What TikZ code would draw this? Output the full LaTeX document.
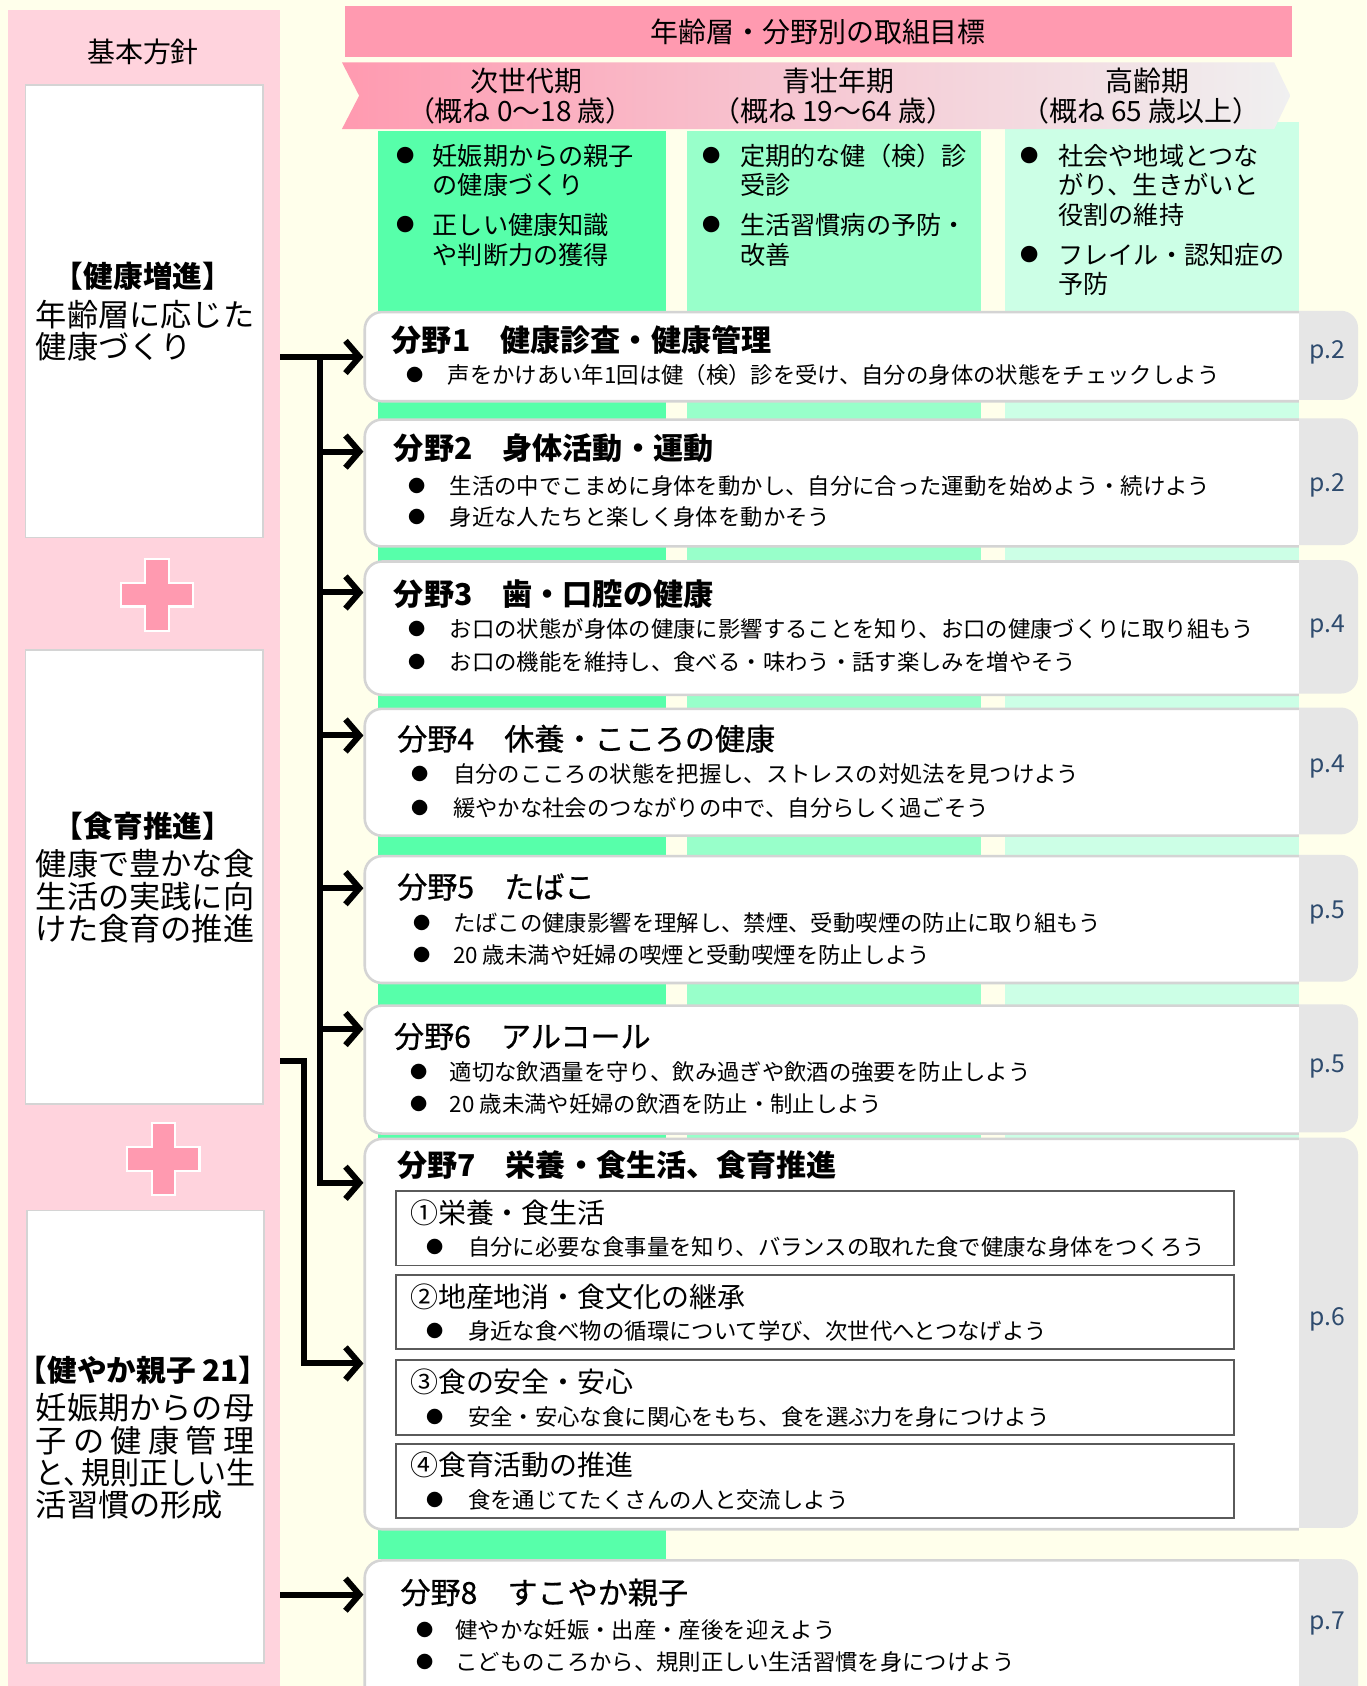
\documentclass[tikz,border=0pt]{standalone}
\usepackage{fontspec}
\setmainfont{Noto Sans CJK JP}
\newfontfamily\medfont{Noto Sans CJK JP}[FakeBold=0.7]
\usetikzlibrary{arrows.meta}
\definecolor{bgc}{HTML}{FFFFEB}
\definecolor{pinkpanel}{HTML}{FFD3DD}
\definecolor{pinkhead}{HTML}{FF9AB0}
\definecolor{colA}{HTML}{57FFAA}
\definecolor{colB}{HTML}{98FFCA}
\definecolor{colC}{HTML}{CCFFE6}
\definecolor{tabgray}{HTML}{E6E6E6}
\definecolor{boxline}{HTML}{D4D4D4}
\definecolor{subline}{HTML}{5A5A5A}
\definecolor{pagec}{HTML}{2E4B6E}
\definecolor{bannerR}{HTML}{F0F0F0}
\definecolor{bannerM}{HTML}{F6C8D3}
\newcommand\fsz[1]{\fontsize{#1pt}{#1pt}\selectfont}
\newcounter{tn}
\newcommand\tx[3][]{\stepcounter{tn}\node[txt,#1] (t\arabic{tn}) at (#2) {#3};}
\newcommand\bline[5]{\stepcounter{tn}\node[#5dot] (d\arabic{tn}) at (#1,#3) {●};\node[#5body] (t\arabic{tn}) at (#2,#3) {#4};}
\newcommand\fieldbox[5]{%
  \fill[tabgray, rounded corners=8pt] (1150,#2) rectangle (1263,#3);
  \begin{scope}
    \clip (320,#2-6) rectangle (1208,#3+6);
    \node[fieldnode, minimum height={(#3-#2)*0.5pt}] (#1) at (338,#2) {};
  \end{scope}
  \node[pg] (#1p) at (1234,#5) {#4};
}
\newcommand\plussign[2]{%
  \draw[plusst] (#1,#2) ++(-11,-33.5) -- ++(22,0) -- ++(0,22.5) -- ++(22.5,0) -- ++(0,22) -- ++(-22.5,0) -- ++(0,22.5) -- ++(-22,0) -- ++(0,-22.5) -- ++(-22.5,0) -- ++(0,-22) -- ++(22.5,0) -- cycle;}
\begin{document}
\begin{tikzpicture}[x=0.5pt,y=-0.5pt,
  txt/.style={inner sep=0pt, anchor=west, text=black},
  ctxt/.style={inner sep=0pt, anchor=center, text=black},
  lbox/.style={draw=boxline, line width=0.8pt, fill=white, anchor=north west, minimum width=110.5pt, inner sep=0pt},
  fieldnode/.style={draw=boxline, fill=white, line width=1.2pt, rounded corners=8pt, anchor=north west, minimum width=446pt, inner sep=0pt},
  subnode/.style={draw=subline, line width=0.9pt, anchor=north west, minimum width=390pt, inner sep=0pt},
  pg/.style={ctxt, font=\fsz{11.5}, text=pagec},
  plusst/.style={fill=pinkhead, draw=white, line width=1pt},
  ltxt/.style={txt, font=\fsz{14.5}},
  lhead/.style={ctxt, font=\fsz{13.8}\bfseries},
  cbody/.style={txt, font=\fsz{11.7}},
  cdot/.style={ctxt, font=\fsz{8.5}},
  ttlb/.style={txt, font=\fsz{14}\bfseries},
  ttlm/.style={txt, font=\fsz{14}\medfont},
  bbody/.style={txt, font=\fsz{10.4}},
  bdot/.style={ctxt, font=\fsz{8}},
  subt/.style={txt, font=\fsz{13}},
  bantxt/.style={ctxt, font=\fsz{13}},
  conn/.style={line width=2.8pt, line join=miter, -{Straight Barb[length=6.5pt,width=15pt]}},
  ]
\clip (0,0) rectangle (1271,1568);
\fill[bgc] (0,0) rectangle (1271,1568);
% left panel
\node[fill=pinkpanel, anchor=north west, minimum width=126.5pt, minimum height=800pt, inner sep=0pt] (base) at (7,9) {};
\node[lbox, minimum height=210.5pt] (k1) at (23,78) {};
\node[lbox, minimum height=211pt] (k2) at (23,604) {};
\node[lbox, minimum height=210.5pt] (k3) at (24,1125) {};
\plussign{146}{553}
\plussign{152}{1078}
\node[ctxt, font=\fsz{13}] (kt) at (133,48) {基本方針};
\tx[lhead]{133,257}{【健康増進】}
\tx[ltxt]{33,293}{年齢層に応じた}
\tx[ltxt]{33,322}{健康づくり}
\tx[lhead]{133,768}{【食育推進】}
\tx[ltxt]{33,803}{健康で豊かな食}
\tx[ltxt]{33,834}{生活の実践に向}
\tx[ltxt]{33,864}{けた食育の推進}
\tx[lhead]{133,1274}{【健やか親子 21】}
\tx[ltxt]{33,1309}{妊娠期からの母}
\tx[ltxt]{33,1340}{\makebox[101.5pt][s]{子\hfil の\hfil 健\hfil 康\hfil 管\hfil 理}}
\tx[ltxt]{33,1370}{\scalebox{0.93}[1]{と、\kern-0.4em 規則正しい生}}
\tx[ltxt]{33,1399}{活習慣の形成}
% header
\node[fill=pinkhead, anchor=north west, minimum width=440.5pt, minimum height=24pt, inner sep=0pt, font=\fsz{13}] (hdr) at (320,5) {年齢層・分野別の取組目標};
% columns
\fill[colA] (352,122) rectangle (619,1450);
\fill[colB] (639,122) rectangle (912,1058);
\fill[colC] (935,113) rectangle (1208,1058);
% banner
\shade[left color=pinkhead, right color=bannerR, middle color=bannerM] (318,58) -- (1185,58) -- (1200,89) -- (1185,120) -- (318,120) -- (334,89) -- cycle;
\tx[bantxt]{490,75}{次世代期}
\tx[bantxt]{484,103}{（概ね 0～18 歳）}
\tx[bantxt]{780,75}{青壮年期}
\tx[bantxt]{775,103}{（概ね 19～64 歳）}
\tx[bantxt]{1067,75}{高齢期}
\tx[bantxt]{1061,103}{（概ね 65 歳以上）}
% column texts
\bline{377}{402}{145}{妊娠期からの親子}{c}
\tx[cbody]{402,172}{の健康づくり}
\bline{377}{402}{209}{正しい健康知識}{c}
\tx[cbody]{402,237}{や判断力の獲得}
\bline{662}{688}{145}{定期的な健（検）診}{c}
\tx[cbody]{688,172}{受診}
\bline{662}{688}{209}{生活習慣病の予防・}{c}
\tx[cbody]{688,237}{改善}
\bline{958}{984}{145}{社会や地域とつな}{c}
\tx[cbody]{984,172}{がり、生きがいと}
\tx[cbody]{984,200}{役割の維持}
\bline{958}{984}{237}{フレイル・認知症の}{c}
\tx[cbody]{984,264}{予防}
% field boxes
\fieldbox{f1}{289}{372}{p.2}{328}
\fieldbox{f2}{389}{507}{p.2}{451}
\fieldbox{f3}{521}{645}{p.4}{583}
\fieldbox{f4}{658}{776}{p.4}{713}
\fieldbox{f5}{795}{913}{p.5}{849}
\fieldbox{f6}{934}{1053}{p.5}{992}
\fieldbox{f7}{1058}{1421}{p.6}{1227}
\fieldbox{f8}{1450}{1600}{p.7}{1510}
% field texts
\tx[ttlb]{364,316}{分野1　健康診査・健康管理}
\bline{386}{416}{349}{声をかけあい年1回は健（検）診を受け、自分の身体の状態をチェックしよう}{b}
\tx[ttlb]{366,417}{分野2　身体活動・運動}
\bline{388}{418}{452}{生活の中でこまめに身体を動かし、自分に合った運動を始めよう・続けよう}{b}
\bline{388}{418}{481}{身近な人たちと楽しく身体を動かそう}{b}
\tx[ttlb]{366,553}{分野3　歯・口腔の健康}
\bline{388}{418}{585}{お口の状態が身体の健康に影響することを知り、お口の健康づくりに取り組もう}{b}
\bline{388}{418}{616}{お口の機能を維持し、食べる・味わう・話す楽しみを増やそう}{b}
\tx[ttlm]{369,687}{分野4　休養・こころの健康}
\bline{391}{421}{720}{自分のこころの状態を把握し、ストレスの対処法を見つけよう}{b}
\bline{391}{421}{751}{緩やかな社会のつながりの中で、自分らしく過ごそう}{b}
\tx[ttlm]{369,825}{分野5　たばこ}
\bline{393}{421}{858}{たばこの健康影響を理解し、禁煙、受動喫煙の防止に取り組もう}{b}
\bline{393}{421}{888}{20 歳未満や妊婦の喫煙と受動喫煙を防止しよう}{b}
\tx[ttlm]{366,964}{分野6　アルコール}
\bline{390}{418}{997}{適切な飲酒量を守り、飲み過ぎや飲酒の強要を防止しよう}{b}
\bline{390}{418}{1027}{20 歳未満や妊婦の飲酒を防止・制止しよう}{b}
\tx[ttlb]{369,1084}{分野7　栄養・食生活、食育推進}
\node[subnode, minimum height=34.5pt] (s1) at (367,1107) {};
\node[subnode, minimum height=34.5pt] (s2) at (367,1185) {};
\node[subnode, minimum height=35pt] (s3) at (367,1264) {};
\node[subnode, minimum height=34.5pt] (s4) at (367,1342) {};
\tx[subt]{381,1128}{①栄養・食生活}
\bline{405}{435}{1160}{自分に必要な食事量を知り、バランスの取れた食で健康な身体をつくろう}{b}
\tx[subt]{381,1206}{②地産地消・食文化の継承}
\bline{405}{435}{1238}{身近な食べ物の循環について学び、次世代へとつなげよう}{b}
\tx[subt]{381,1285}{③食の安全・安心}
\bline{405}{435}{1318}{安全・安心な食に関心をもち、食を選ぶ力を身につけよう}{b}
\tx[subt]{381,1362}{④食育活動の推進}
\bline{405}{435}{1395}{食を通じてたくさんの人と交流しよう}{b}
\tx[ttlm]{372,1481}{分野8　すこやか親子}
\bline{395}{423}{1516}{健やかな妊娠・出産・産後を迎えよう}{b}
\bline{395}{423}{1546}{こどものころから、規則正しい生活習慣を身につけよう}{b}
% connectors
\draw[conn] (base.east |- 0,332) -- (f1.west |- 0,332);
\draw[conn] (298,329.2) -- (298,1100) -- (f7.west |- 0,1100);
\draw[conn] (298,420) -- (f2.west |- 0,420);
\draw[conn] (298,551) -- (f3.west |- 0,551);
\draw[conn] (298,684) -- (f4.west |- 0,684);
\draw[conn] (298,826) -- (f5.west |- 0,826);
\draw[conn] (298,957) -- (f6.west |- 0,957);
\draw[conn] (base.east |- 0,987) -- (283,987) -- (283,1268) -- (f7.west |- 0,1268);
\draw[conn] (base.east |- 0,1483) -- (f8.west |- 0,1483);
\end{tikzpicture}
\end{document}
